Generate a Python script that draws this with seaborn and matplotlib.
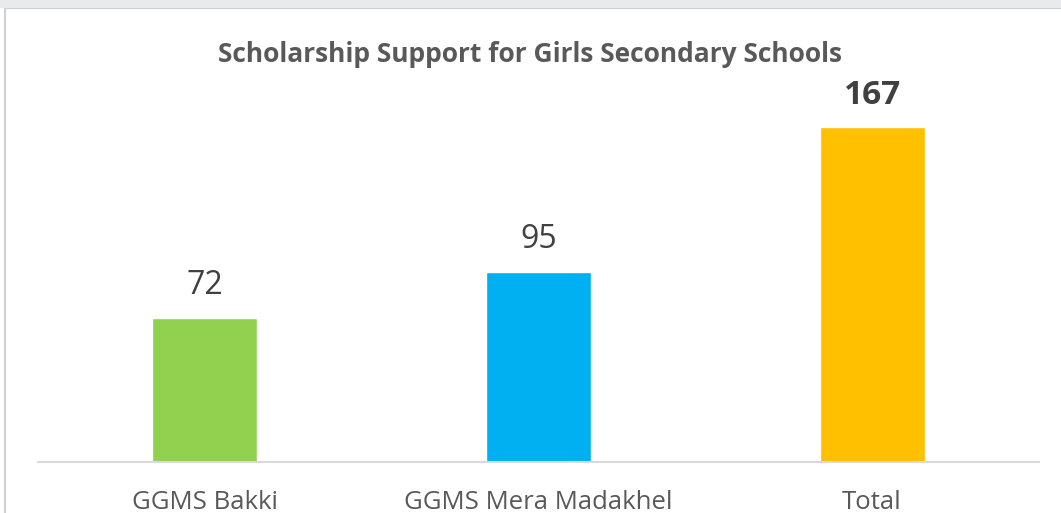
import matplotlib.pyplot as plt
import matplotlib.patches as mpatches
import pandas as pd
import seaborn as sns

# Chart data
schools = ["GGMS Bakki", "GGMS Mera Madakhel", "Total"]
students = [72, 95, 167]
bar_colors = ["#92D050", "#00B0F0", "#FFC000"]
title = "Scholarship Support for Girls Secondary Schools"

sns.set_style("white")
plt.rcParams['font.family'] = ['Open Sans', 'DejaVu Sans']

df = pd.DataFrame({"school": schools, "students": students})

fig = plt.figure(figsize=(10.61, 5.13), dpi=100)
ax = fig.add_axes([0.0358, 0.0994, 0.9434, 0.7817])

sns.barplot(data=df, x="school", y="students", hue="school",
            palette=bar_colors, width=0.315, saturation=1,
            legend=False, ax=ax)

ax.set_xlim(-0.5, 2.5)
ax.set_ylim(0, 200)
ax.set_xlabel("")
ax.set_ylabel("")
ax.set_yticks([])
for side in ["left", "right", "top"]:
    ax.spines[side].set_visible(False)
ax.spines["bottom"].set_color("#d9d9d9")
ax.spines["bottom"].set_linewidth(1.5)
ax.tick_params(axis="x", length=0, pad=20, labelsize=18.5,
               labelcolor="#595959")

# Value labels above bars, the total in bold
for i, v in enumerate(students):
    weight = "bold" if schools[i] == "Total" else "normal"
    size = 24 if schools[i] == "Total" else 23
    ax.annotate(str(v), (i, v), xytext=(0, 11), textcoords="offset points",
                ha="center", va="bottom", fontsize=size, color="#404040",
                fontweight=weight)

fig.text(0.5, 0.893, title, ha="center", va="center", fontsize=19,
         fontweight="bold", color="#595959")

# Slide frame
fig.patches.append(mpatches.Rectangle((5 / 1061, -0.1), 1.2, 1.1 - 8 / 513,
                                      transform=fig.transFigure,
                                      fill=False, edgecolor="#d0d0d0",
                                      linewidth=1.5))
fig.patches.append(mpatches.Rectangle((0, 1 - 8 / 513), 1, 8 / 513,
                                      transform=fig.transFigure,
                                      facecolor="#e8eaec", edgecolor="none"))

fig.savefig("out.png", dpi=100)
